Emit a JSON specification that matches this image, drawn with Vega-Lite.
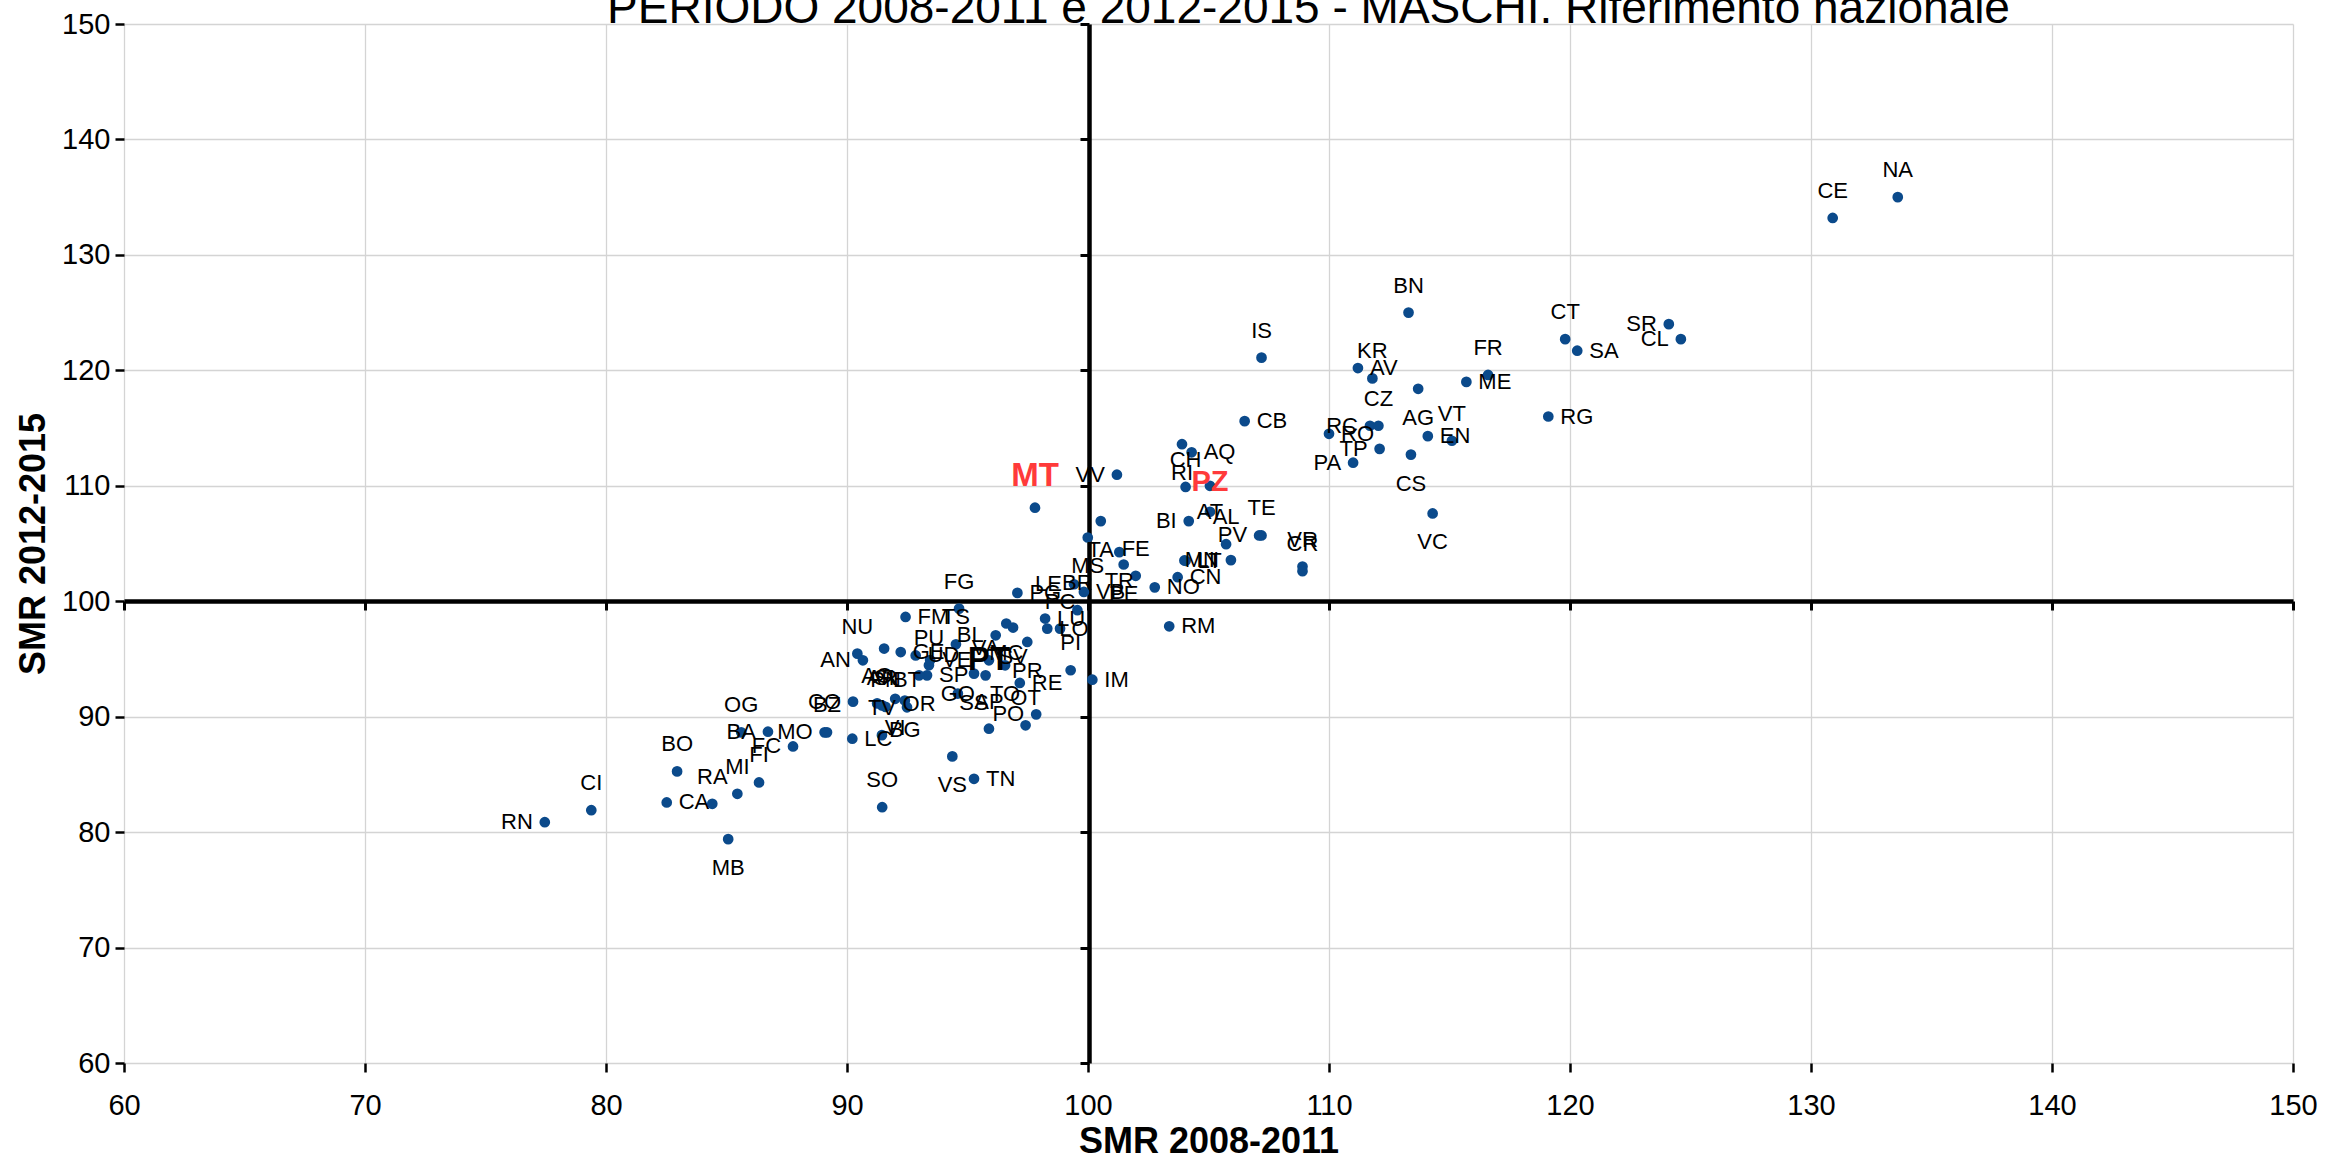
{
  "$schema": "https://vega.github.io/schema/vega-lite/v6.json",
  "autosize": {"type": "none"},
  "width": 2169,
  "height": 1039,
  "padding": {"left": 124, "top": 24, "right": 38, "bottom": 104},
  "background": "white",
  "title": {"text": "PERIODO 2008-2011 e 2012-2015 - MASCHI.  Riferimento nazionale", "font": "Liberation Sans", "fontSize": 46, "fontWeight": "normal", "color": "black", "anchor": "middle", "offset": 0, "baseline": "alphabetic", "dx": 100, "dy": 59},
  "config": {"view": {"stroke": null}, "text": {"font": "Liberation Sans"}},
  "data": {"values": [
    {"id": "CE", "x": 130.9, "y": 133.2, "pos": "t"},
    {"id": "NA", "x": 133.6, "y": 135.0, "pos": "t"},
    {"id": "CT", "x": 119.8, "y": 122.7, "pos": "t"},
    {"id": "SA", "x": 120.3, "y": 121.7, "pos": "r"},
    {"id": "SR", "x": 124.1, "y": 124.0, "pos": "l"},
    {"id": "CL", "x": 124.6, "y": 122.7, "pos": "l"},
    {"id": "RG", "x": 119.1, "y": 116.0, "pos": "r"},
    {"id": "BN", "x": 113.3, "y": 125.0, "pos": "t"},
    {"id": "IS", "x": 107.2, "y": 121.1, "pos": "t"},
    {"id": "AV", "x": 111.2, "y": 120.2, "pos": "r"},
    {"id": "KR", "x": 111.8, "y": 119.3, "pos": "t"},
    {"id": "AG", "x": 113.7, "y": 118.4, "pos": "b"},
    {"id": "ME", "x": 115.7, "y": 119.0, "pos": "r"},
    {"id": "FR", "x": 116.6, "y": 119.6, "pos": "t"},
    {"id": "EN", "x": 114.1, "y": 114.3, "pos": "r"},
    {"id": "VT", "x": 115.1, "y": 113.9, "pos": "t"},
    {"id": "CS", "x": 113.4, "y": 112.7, "pos": "b"},
    {"id": "VC", "x": 114.3, "y": 107.6, "pos": "b"},
    {"id": "RO", "x": 110.0, "y": 114.5, "pos": "r"},
    {"id": "RC", "x": 111.7, "y": 115.2, "pos": "l"},
    {"id": "CZ", "x": 112.05, "y": 115.2, "pos": "t"},
    {"id": "TP", "x": 112.1, "y": 113.2, "pos": "l"},
    {"id": "PA", "x": 111.0, "y": 112.0, "pos": "l"},
    {"id": "CB", "x": 106.5, "y": 115.6, "pos": "r"},
    {"id": "TE", "x": 107.2, "y": 105.7, "pos": "t"},
    {"id": "PV", "x": 107.1, "y": 105.7, "pos": "l"},
    {"id": "VR", "x": 108.9, "y": 103.0, "pos": "t"},
    {"id": "CR", "x": 108.9, "y": 102.6, "pos": "t"},
    {"id": "AQ", "x": 104.3, "y": 112.9, "pos": "r"},
    {"id": "RI", "x": 103.9, "y": 113.6, "pos": "b"},
    {"id": "CH", "x": 104.05, "y": 109.9, "pos": "t"},
    {"id": "PZ", "x": 105.06, "y": 110.0, "pos": "hz"},
    {"id": "VV", "x": 101.2, "y": 110.96, "pos": "l"},
    {"id": "TA", "x": 100.53, "y": 106.94, "pos": "b"},
    {"id": "BI", "x": 104.18, "y": 106.94, "pos": "l"},
    {"id": "AL", "x": 105.73, "y": 104.94, "pos": "t"},
    {"id": "AT", "x": 105.06, "y": 107.75, "pos": "c"},
    {"id": "MS", "x": 99.99, "y": 105.52, "pos": "b"},
    {"id": "FE", "x": 101.98, "y": 102.2, "pos": "t"},
    {"id": "TR", "x": 101.3, "y": 104.25, "pos": "b"},
    {"id": "PE", "x": 101.48, "y": 103.18, "pos": "b"},
    {"id": "VB", "x": 99.83, "y": 100.8, "pos": "r"},
    {"id": "NO", "x": 102.77, "y": 101.2, "pos": "r"},
    {"id": "CN", "x": 103.72, "y": 102.08, "pos": "r"},
    {"id": "LI", "x": 104.0, "y": 103.53, "pos": "r"},
    {"id": "LT", "x": 104.05, "y": 103.5, "pos": "r"},
    {"id": "MN", "x": 105.93, "y": 103.56, "pos": "l"},
    {"id": "RM", "x": 103.37, "y": 97.83, "pos": "r"},
    {"id": "IM", "x": 100.18, "y": 93.2, "pos": "r"},
    {"id": "MT", "x": 97.8, "y": 108.1, "pos": "hm"},
    {"id": "RN", "x": 77.46, "y": 80.86, "pos": "l"},
    {"id": "CI", "x": 79.39, "y": 81.9, "pos": "t"},
    {"id": "BO", "x": 82.95, "y": 85.26, "pos": "t"},
    {"id": "CA", "x": 82.52, "y": 82.57, "pos": "r"},
    {"id": "RA", "x": 84.41, "y": 82.45, "pos": "t"},
    {"id": "MI", "x": 85.45, "y": 83.32, "pos": "t"},
    {"id": "MB", "x": 85.07, "y": 79.39, "pos": "b"},
    {"id": "FI", "x": 86.35, "y": 84.3, "pos": "t"},
    {"id": "OG", "x": 85.61, "y": 88.64, "pos": "t"},
    {"id": "BA", "x": 86.72, "y": 88.7, "pos": "l"},
    {"id": "FC", "x": 87.76, "y": 87.42, "pos": "l"},
    {"id": "MO", "x": 89.07, "y": 88.64, "pos": "l"},
    {"id": "BZ", "x": 89.17, "y": 88.64, "pos": "t"},
    {"id": "CO", "x": 90.25, "y": 91.3, "pos": "l"},
    {"id": "LC", "x": 90.22, "y": 88.09, "pos": "r"},
    {"id": "SO", "x": 91.46, "y": 82.16, "pos": "t"},
    {"id": "VS", "x": 94.37, "y": 86.56, "pos": "b"},
    {"id": "TN", "x": 95.27, "y": 84.62, "pos": "r"},
    {"id": "PO", "x": 97.85, "y": 90.2, "pos": "l"},
    {"id": "OT", "x": 97.41, "y": 89.25, "pos": "t"},
    {"id": "AP", "x": 95.89, "y": 88.96, "pos": "t"},
    {"id": "FG", "x": 94.65, "y": 99.36, "pos": "t"},
    {"id": "FM", "x": 92.43, "y": 98.64, "pos": "r"},
    {"id": "PG", "x": 97.07, "y": 100.72, "pos": "r"},
    {"id": "NU", "x": 90.43, "y": 95.46, "pos": "t"},
    {"id": "AN", "x": 90.66, "y": 94.88, "pos": "l"},
    {"id": "PI", "x": 99.28, "y": 94.02, "pos": "t"},
    {"id": "RE", "x": 97.17, "y": 92.92, "pos": "r"},
    {"id": "TS", "x": 94.52, "y": 96.27, "pos": "t"},
    {"id": "PU", "x": 93.4, "y": 94.45, "pos": "t"},
    {"id": "GE", "x": 92.23, "y": 95.6, "pos": "r"},
    {"id": "UD", "x": 92.85, "y": 95.3, "pos": "r"},
    {"id": "VE", "x": 93.45, "y": 94.9, "pos": "r"},
    {"id": "BL", "x": 96.17, "y": 97.05, "pos": "l"},
    {"id": "VA", "x": 95.75, "y": 93.58, "pos": "t"},
    {"id": "MC", "x": 96.61, "y": 98.07, "pos": "b"},
    {"id": "SV", "x": 96.89, "y": 97.72, "pos": "b"},
    {"id": "PR", "x": 97.48, "y": 96.47, "pos": "b"},
    {"id": "TO", "x": 96.56, "y": 94.45, "pos": "b"},
    {"id": "PT", "x": 95.89, "y": 94.88, "pos": "hp"},
    {"id": "SI", "x": 91.54, "y": 95.9, "pos": "b"},
    {"id": "AR", "x": 91.45, "y": 90.98, "pos": "t"},
    {"id": "PN", "x": 91.6, "y": 90.85, "pos": "t"},
    {"id": "AO", "x": 91.25, "y": 91.15, "pos": "t"},
    {"id": "BT", "x": 92.49, "y": 90.81, "pos": "t"},
    {"id": "SP", "x": 93.32, "y": 93.58, "pos": "r"},
    {"id": "OR", "x": 92.99, "y": 93.58, "pos": "b"},
    {"id": "SS", "x": 95.27, "y": 93.73, "pos": "b"},
    {"id": "GO", "x": 94.6, "y": 92.0, "pos": "c"},
    {"id": "TV", "x": 91.45, "y": 88.4, "pos": "t"},
    {"id": "VI", "x": 92.0, "y": 91.55, "pos": "b"},
    {"id": "BG", "x": 92.4, "y": 91.4, "pos": "b"},
    {"id": "LE", "x": 99.42, "y": 101.47, "pos": "l"},
    {"id": "BR", "x": 99.56, "y": 99.22, "pos": "t"},
    {"id": "LU", "x": 98.22, "y": 98.5, "pos": "r"},
    {"id": "LO", "x": 98.31, "y": 97.63, "pos": "r"},
    {"id": "PC", "x": 98.84, "y": 97.63, "pos": "t"}
  ]},
  "encoding": {
    "x": {"field": "x", "type": "quantitative", "axis": null},
    "y": {"field": "y", "type": "quantitative", "axis": null}
  },
  "resolve": {"axis": {"x": "independent", "y": "independent"}},
  "layer": [
    {
      "mark": {"type": "circle", "size": 115, "color": "#0b4a8b", "opacity": 1},
      "encoding": {
        "x": {"field": "x", "type": "quantitative", "scale": {"domain": [60, 150], "nice": false, "zero": false},
          "axis": {"title": "SMR 2008-2011", "values": [60,70,80,90,100,110,120,130,140,150], "grid": true, "gridColor": "#d4d4d4", "gridWidth": 1.3, "domain": false, "tickColor": "black", "tickWidth": 2.5, "tickSize": 9, "labelFont": "Liberation Sans", "labelFontSize": 29, "labelColor": "black", "labelPadding": 19, "labelFlush": false, "titleFont": "Liberation Sans", "titleFontSize": 36, "titleFontWeight": "bold", "titleColor": "black", "titlePadding": 4}},
        "y": {"field": "y", "type": "quantitative", "scale": {"domain": [60, 150], "nice": false, "zero": false},
          "axis": {"title": "SMR 2012-2015", "values": [60,70,80,90,100,110,120,130,140,150], "grid": true, "gridColor": "#d4d4d4", "gridWidth": 1.3, "domain": false, "tickColor": "black", "tickWidth": 2.5, "tickSize": 9, "labelFont": "Liberation Sans", "labelFontSize": 29, "labelColor": "black", "labelPadding": 5, "labelFlush": false, "titleFont": "Liberation Sans", "titleFontSize": 36, "titleFontWeight": "bold", "titleColor": "black", "titlePadding": 9}}
      }
    },
    {
      "mark": {"type": "rule", "color": "black", "strokeWidth": 0},
      "encoding": {
        "x": {"datum": 60, "type": "quantitative", "axis": {"orient": "bottom", "offset": -462, "values": [60,70,80,90,100,110,120,130,140,150], "grid": false, "labels": false, "title": null, "domain": true, "domainColor": "black", "domainWidth": 4.5, "tickColor": "black", "tickWidth": 3, "tickSize": 9}},
        "x2": {"datum": 150},
        "y": {"datum": 100, "type": "quantitative", "axis": null}
      }
    },
    {
      "mark": {"type": "rule", "color": "black", "strokeWidth": 0},
      "encoding": {
        "y": {"datum": 60, "type": "quantitative", "axis": {"orient": "left", "offset": -965, "values": [60,70,80,90,100,110,120,130,140,150], "grid": false, "labels": false, "title": null, "domain": true, "domainColor": "black", "domainWidth": 4.5, "tickColor": "black", "tickWidth": 3, "tickSize": 9}},
        "y2": {"datum": 150},
        "x": {"datum": 100, "type": "quantitative", "axis": null}
      }
    },
    {
      "transform": [{"filter": "datum.pos == 't'"}],
      "mark": {"type": "text", "fontSize": 22, "color": "black", "baseline": "middle", "align": "center", "dy": -27},
      "encoding": {"text": {"field": "id"}}
    },
    {
      "transform": [{"filter": "datum.pos == 'b'"}],
      "mark": {"type": "text", "fontSize": 22, "color": "black", "baseline": "middle", "align": "center", "dy": 29},
      "encoding": {"text": {"field": "id"}}
    },
    {
      "transform": [{"filter": "datum.pos == 'l'"}],
      "mark": {"type": "text", "fontSize": 22, "color": "black", "baseline": "middle", "align": "right", "dx": -12},
      "encoding": {"text": {"field": "id"}}
    },
    {
      "transform": [{"filter": "datum.pos == 'r'"}],
      "mark": {"type": "text", "fontSize": 22, "color": "black", "baseline": "middle", "align": "left", "dx": 12},
      "encoding": {"text": {"field": "id"}}
    },
    {
      "transform": [{"filter": "datum.pos == 'c'"}],
      "mark": {"type": "text", "fontSize": 22, "color": "black", "baseline": "middle", "align": "center"},
      "encoding": {"text": {"field": "id"}}
    },
    {
      "transform": [{"filter": "datum.pos == 'hm'"}],
      "mark": {"type": "text", "fontSize": 33, "fontWeight": "bold", "color": "#ff3a3a", "baseline": "middle", "align": "center", "dy": -32},
      "encoding": {"text": {"field": "id"}}
    },
    {
      "transform": [{"filter": "datum.pos == 'hz'"}],
      "mark": {"type": "text", "fontSize": 29, "fontWeight": "bold", "color": "#ff3a3a", "baseline": "middle", "align": "center", "dy": -4},
      "encoding": {"text": {"field": "id"}}
    },
    {
      "transform": [{"filter": "datum.pos == 'hp'"}],
      "mark": {"type": "text", "fontSize": 33, "fontWeight": "bold", "color": "black", "baseline": "middle", "align": "center"},
      "encoding": {"text": {"field": "id"}}
    }
  ]
}
